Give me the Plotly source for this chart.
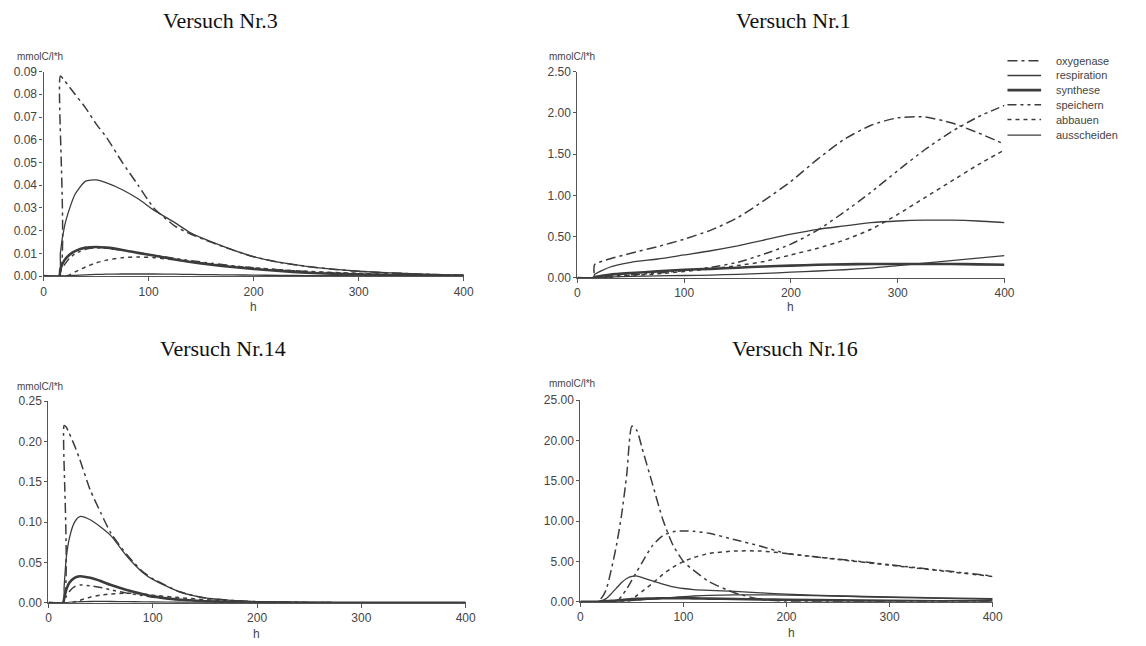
import plotly.graph_objects as go

# ---------------- data ----------------
series_names = ["oxygenase", "respiration", "synthese", "speichern", "abbauen", "ausscheiden"]

# Versuch Nr.3
x_nr3 = [0, 15, 16, 20, 25, 30, 40, 50, 60, 75, 90, 105, 125, 140, 160, 180, 200, 225, 250, 275, 300, 350, 400]
oxy_nr3 = [0, 0, 0.088, 0.086, 0.083, 0.080, 0.074, 0.067, 0.061, 0.050, 0.040, 0.030, 0.022, 0.0185, 0.0148, 0.0115, 0.0085, 0.006, 0.0043, 0.003, 0.0021, 0.001, 0.0003]
resp_nr3 = [0, 0, 0.010, 0.022, 0.030, 0.036, 0.0418, 0.0423, 0.041, 0.038, 0.034, 0.029, 0.0235, 0.019, 0.015, 0.0115, 0.0085, 0.006, 0.0043, 0.003, 0.0021, 0.001, 0.0003]
syn_nr3 = [0, 0, 0.003, 0.007, 0.0095, 0.011, 0.0125, 0.0128, 0.0125, 0.0115, 0.0102, 0.009, 0.0073, 0.0062, 0.005, 0.004, 0.0031, 0.0022, 0.0015, 0.001, 0.0007, 0.0003, 0.0001]
spe_nr3 = [0, 0, 0.002, 0.005, 0.008, 0.0098, 0.0118, 0.0124, 0.0122, 0.0114, 0.0103, 0.0092, 0.0078, 0.0068, 0.0056, 0.0045, 0.0036, 0.0027, 0.002, 0.0014, 0.001, 0.0005, 0.0002]
abb_nr3 = [0, 0, 0, 0, 0.0005, 0.0018, 0.004, 0.0058, 0.007, 0.0081, 0.0084, 0.0081, 0.0071, 0.0063, 0.0053, 0.0044, 0.0036, 0.0028, 0.0021, 0.0016, 0.0012, 0.0006, 0.0002]
aus_nr3 = [0, 0, 0, 0.0001, 0.0002, 0.0003, 0.0005, 0.0007, 0.0008, 0.0009, 0.0009, 0.0009, 0.0008, 0.0007, 0.0006, 0.0005, 0.0004, 0.0003, 0.0002, 0.0002, 0.0001, 0.0001, 0]

# Versuch Nr.1
x_nr1 = [0, 15, 16, 30, 50, 75, 100, 125, 150, 175, 200, 225, 250, 275, 300, 325, 350, 375, 400]
oxy_nr1 = [0, 0, 0.16, 0.23, 0.30, 0.38, 0.47, 0.58, 0.73, 0.94, 1.17, 1.44, 1.68, 1.85, 1.94, 1.95, 1.88, 1.76, 1.62]
resp_nr1 = [0, 0, 0.04, 0.13, 0.19, 0.23, 0.28, 0.33, 0.39, 0.46, 0.53, 0.59, 0.63, 0.67, 0.69, 0.70, 0.70, 0.69, 0.67]
syn_nr1 = [0, 0, 0.01, 0.04, 0.06, 0.08, 0.10, 0.11, 0.125, 0.14, 0.15, 0.16, 0.165, 0.17, 0.17, 0.17, 0.17, 0.165, 0.16]
spe_nr1 = [0, 0, 0.01, 0.02, 0.04, 0.06, 0.09, 0.13, 0.19, 0.29, 0.41, 0.58, 0.80, 1.04, 1.30, 1.55, 1.77, 1.95, 2.09]
abb_nr1 = [0, 0, 0, 0.01, 0.03, 0.05, 0.08, 0.11, 0.15, 0.20, 0.28, 0.36, 0.46, 0.59, 0.77, 0.97, 1.17, 1.37, 1.55]
aus_nr1 = [0, 0, 0, 0.01, 0.02, 0.025, 0.03, 0.035, 0.045, 0.055, 0.07, 0.085, 0.10, 0.12, 0.15, 0.18, 0.21, 0.24, 0.27]

# Versuch Nr.14
x_nr14 = [0, 14, 15, 17, 20, 25, 30, 40, 50, 60, 75, 90, 100, 125, 150, 175, 200, 250, 300, 400]
oxy_nr14 = [0, 0, 0.22, 0.218, 0.21, 0.195, 0.178, 0.14, 0.112, 0.086, 0.060, 0.039, 0.030, 0.014, 0.006, 0.003, 0.0015, 0.0004, 0.0001, 0]
resp_nr14 = [0, 0, 0.02, 0.055, 0.08, 0.10, 0.107, 0.103, 0.094, 0.083, 0.058, 0.038, 0.029, 0.014, 0.006, 0.003, 0.0015, 0.0004, 0.0001, 0]
syn_nr14 = [0, 0, 0.005, 0.016, 0.025, 0.031, 0.033, 0.031, 0.027, 0.022, 0.016, 0.011, 0.008, 0.004, 0.002, 0.001, 0.0005, 0.0001, 0, 0]
spe_nr14 = [0, 0, 0.002, 0.008, 0.014, 0.020, 0.022, 0.021, 0.019, 0.016, 0.012, 0.009, 0.007, 0.0035, 0.0018, 0.0009, 0.0004, 0.0001, 0, 0]
abb_nr14 = [0, 0, 0, 0, 0, 0.001, 0.003, 0.007, 0.0095, 0.011, 0.012, 0.011, 0.0095, 0.0065, 0.004, 0.0025, 0.0013, 0.0004, 0.0001, 0]
aus_nr14 = [0, 0, 0, 0.0003, 0.0006, 0.001, 0.0013, 0.0016, 0.0017, 0.0016, 0.0014, 0.0012, 0.001, 0.0007, 0.0005, 0.0003, 0.0002, 0.0001, 0, 0]

# Versuch Nr.16
x_nr16 = [0, 15, 20, 25, 30, 35, 40, 45, 50, 55, 60, 70, 80, 90, 100, 110, 125, 150, 175, 200, 250, 300, 350, 400]
oxy_nr16 = [0, 0, 0.4, 1.5, 4.0, 7.0, 10.8, 15.8, 21.8, 21.2, 19.0, 14.6, 10.2, 7.0, 5.0, 3.9, 2.5, 1.1, 0.3, 0.05, 0, 0, 0, 0]
resp_nr16 = [0, 0, 0.1, 0.4, 1.0, 1.7, 2.4, 2.9, 3.15, 3.2, 3.0, 2.6, 2.2, 1.85, 1.65, 1.52, 1.42, 1.3, 1.12, 0.95, 0.72, 0.55, 0.42, 0.32]
syn_nr16 = [0, 0, 0.05, 0.08, 0.12, 0.16, 0.22, 0.28, 0.33, 0.36, 0.38, 0.42, 0.44, 0.45, 0.45, 0.43, 0.4, 0.35, 0.3, 0.25, 0.18, 0.12, 0.08, 0.05]
spe_nr16 = [0, 0, 0, 0, 0, 0, 0.7, 1.6, 2.7, 3.8, 4.9, 7.0, 8.2, 8.7, 8.8, 8.75, 8.5, 7.7, 6.9, 6.0, 5.3, 4.6, 3.9, 3.2]
abb_nr16 = [0, 0, 0, 0, 0, 0, 0, 0, 0.3, 0.8, 1.3, 2.3, 3.4, 4.3, 5.0, 5.5, 6.0, 6.3, 6.3, 6.0, 5.25, 4.55, 3.85, 3.15]
aus_nr16 = [0, 0, 0, 0.02, 0.05, 0.08, 0.1, 0.12, 0.15, 0.2, 0.25, 0.35, 0.45, 0.55, 0.65, 0.72, 0.8, 0.85, 0.86, 0.84, 0.72, 0.6, 0.5, 0.4]

titles = ["Versuch Nr.3", "Versuch Nr.1", "Versuch Nr.14", "Versuch Nr.16"]
y_ranges = [0.09, 2.5, 0.25, 25]
y_dticks = [0.01, 0.5, 0.05, 5]
x_ticks = [0, 100, 200, 300, 400]

panels = [
    (x_nr3, [oxy_nr3, resp_nr3, syn_nr3, spe_nr3, abb_nr3, aus_nr3]),
    (x_nr1, [oxy_nr1, resp_nr1, syn_nr1, spe_nr1, abb_nr1, aus_nr1]),
    (x_nr14, [oxy_nr14, resp_nr14, syn_nr14, spe_nr14, abb_nr14, aus_nr14]),
    (x_nr16, [oxy_nr16, resp_nr16, syn_nr16, spe_nr16, abb_nr16, aus_nr16]),
]

# ---------------- styles ----------------
W, H = 1146, 646
LINE = "#3c3c3c"
styles = [
    dict(width=1.5, dash="10px,4px,3px,4px"),
    dict(width=1.3, dash="solid"),
    dict(width=2.6, dash="solid"),
    dict(width=1.5, dash="9px,4px,3px,4px,3px,4px"),
    dict(width=1.5, dash="4px,4px"),
    dict(width=1.3, dash="solid"),
]

# pixel boxes of the plot areas: (left, right, top, bottom)
boxes = [(41, 466, 66, 275), (581, 1013, 66, 277), (46, 468, 403, 609), (584, 1001, 402, 608)]


def px_x(p):
    return p / W


def px_y(p):
    return 1 - p / H


fig = go.Figure()
for i, (xs, ys_list) in enumerate(panels):
    ax = "" if i == 0 else str(i + 1)
    for j, ys in enumerate(ys_list):
        fig.add_trace(go.Scatter(
            x=xs, y=ys, mode="lines", name=series_names[j],
            line=dict(color=LINE, width=styles[j]["width"], dash=styles[j]["dash"],
                      shape="spline", smoothing=0.6),
            xaxis="x" + ax, yaxis="y" + ax,
            showlegend=False,
        ))

annotations = []
shapes = []

# legend (drawn as a key beside Versuch Nr.1)
legend_rows = [55, 70, 85, 100, 115, 131]
for j, name in enumerate(series_names):
    yy = px_y(legend_rows[j])
    shapes.append(dict(
        type="line", xref="paper", yref="paper", x0=px_x(1016), x1=px_x(1050), y0=yy, y1=yy,
        line=dict(color=LINE, width=styles[j]["width"], dash=styles[j]["dash"]),
    ))
    annotations.append(dict(
        text=name, xref="paper", yref="paper", x=px_x(1063), y=yy,
        xanchor="left", yanchor="middle", showarrow=False,
        font=dict(size=11, color="#444"),
    ))

layout = dict(
    width=W, height=H, margin=dict(l=0, r=0, t=0, b=0),
    paper_bgcolor="white", plot_bgcolor="white",
    font=dict(family="Liberation Sans, Arial, sans-serif", size=12, color="#444"),
    showlegend=False,
)

for i in range(4):
    l, r, t, b = boxes[i]
    key = "" if i == 0 else str(i + 1)
    layout["xaxis" + key] = dict(
        domain=[px_x(l), px_x(r)], range=[0, 400], anchor="y" + key,
        tickvals=x_ticks, showline=True, linecolor="#555", linewidth=1.2,
        ticks="outside", ticklen=4, tickcolor="#555", showgrid=False, zeroline=False,
        tickfont=dict(size=12, color="#444"),
    )
    layout["yaxis" + key] = dict(
        domain=[px_y(b), px_y(t)], range=[0, y_ranges[i]], anchor="x" + key,
        dtick=y_dticks[i], tick0=0, tickformat=".2f",
        showline=True, linecolor="#555", linewidth=1.2,
        ticks="outside", ticklen=3, tickcolor="#555", showgrid=False, zeroline=False,
        tickfont=dict(size=12, color="#444"),
    )
    # titles
    annotations.append(dict(
        text=titles[i], xref="paper", yref="paper",
        x=px_x([220, 800, 223, 801][i]), y=px_y([14, 14, 349, 349][i]),
        xanchor="center", yanchor="middle", showarrow=False,
        font=dict(family="Liberation Serif, DejaVu Serif, serif", size=22, color="#111"),
    ))
    # unit labels
    annotations.append(dict(
        text="mmolC/l*h", xref="paper", yref="paper",
        x=px_x([12, 550, 12, 550][i]), y=px_y([51, 51, 388, 385][i]),
        xanchor="left", yanchor="middle", showarrow=False,
        font=dict(size=10, color="#444"),
    ))
    # x labels
    annotations.append(dict(
        text="h", xref="paper", yref="paper",
        x=px_x([253, 797, 256, 798][i]), y=px_y([307, 307, 641, 640][i]),
        xanchor="center", yanchor="middle", showarrow=False,
        font=dict(size=12, color="#444"),
    ))

layout["annotations"] = annotations
layout["shapes"] = shapes
fig.update_layout(**layout)
fig.write_html("out.html")
